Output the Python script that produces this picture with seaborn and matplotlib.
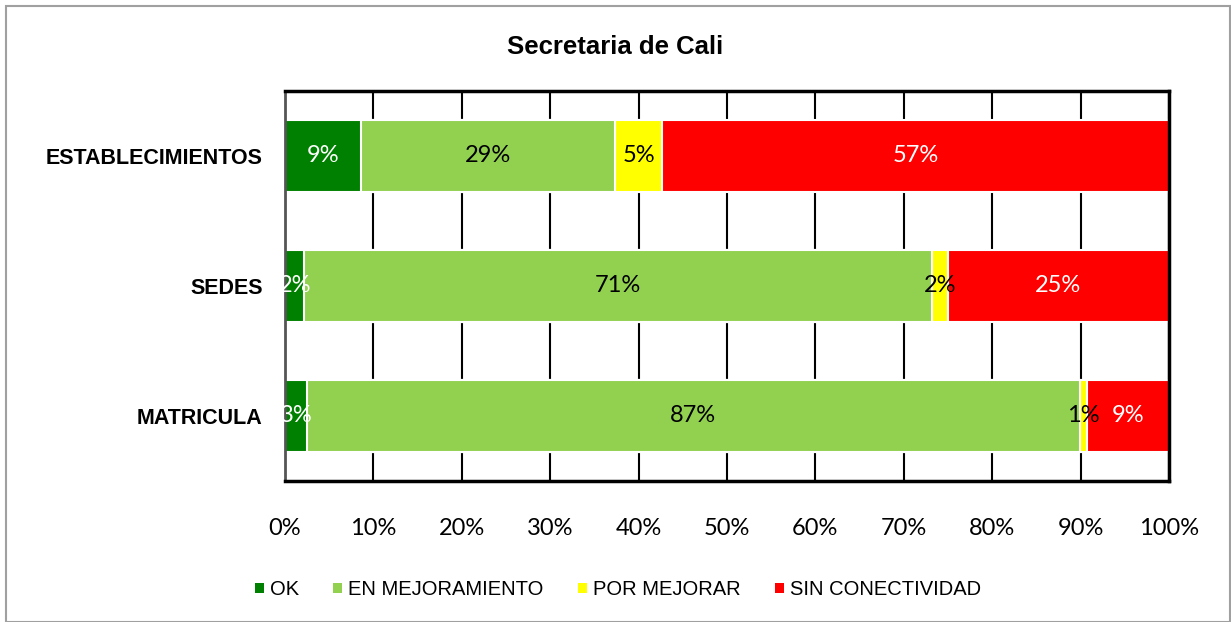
import matplotlib
matplotlib.use("Agg")
import matplotlib.pyplot as plt
from matplotlib.patches import Patch, Rectangle
import seaborn as sns
import pandas as pd
import numpy as np

# data (percent of each row)
categorias = ["ESTABLECIMIENTOS", "SEDES", "MATRICULA"]
ok = [8.6, 2.2, 2.5]
en_mejoramiento = [28.7, 71.0, 87.4]
por_mejorar = [5.4, 1.8, 0.8]
sin_conectividad = [57.3, 25.0, 9.3]
etiquetas = ["9%", "29%", "5%", "57%",
             "2%", "71%", "2%", "25%",
             "3%", "87%", "1%", "9%"]
series = ["OK", "EN MEJORAMIENTO", "POR MEJORAR", "SIN CONECTIVIDAD"]
colores = ["#008000", "#92D050", "#FFFF00", "#FF0000"]
color_texto = ["white", "black", "black", "white"]

df = pd.DataFrame({"cat": categorias, "OK": ok, "EN MEJORAMIENTO": en_mejoramiento,
                   "POR MEJORAR": por_mejorar, "SIN CONECTIVIDAD": sin_conectividad})
acum = df[series].cumsum(axis=1)

sns.set_style("white")
plt.rcParams["text.color"] = "black"
plt.rcParams["xtick.color"] = "black"
plt.rcParams["ytick.color"] = "black"
fig = plt.figure(figsize=(12.31, 6.22), dpi=100)
ax = fig.add_axes([0.2315, 0.2267, 0.7181, 0.627])

# stacked bars: draw cumulative totals from the last series backwards
for s, c in reversed(list(zip(series, colores))):
    sns.barplot(x=acum[s], y=df["cat"], color=c, orient="h", ax=ax, saturation=1,
                width=0.56, edgecolor="white", linewidth=1.5, zorder=2)

# labels in the middle of each segment
k = 0
for i in range(len(categorias)):
    izq = 0
    for j, s in enumerate(series):
        v = df[s][i]
        ax.text(izq + v / 2, i, etiquetas[k], ha="center", va="center",
                color=color_texto[j], fontsize=17, family="Lato", zorder=5)
        izq += v
        k += 1

ax.set_xlim(0, 100)
ax.set_ylim(2.5, -0.5)
ax.set_xticks(np.arange(0, 101, 10))
ax.set_xticklabels([f"{t}%" for t in range(0, 101, 10)], family="Lato", fontsize=17)
ax.tick_params(axis="x", length=0, pad=27)
ax.tick_params(axis="y", length=0, pad=16)
for lab in ax.get_yticklabels():
    lab.set_fontweight("bold")
    lab.set_fontsize(15.5)
    lab.set_family("Liberation Sans")
ax.set_xlabel("")
ax.set_ylabel("")
ax.grid(axis="x", color="black", linewidth=1.5, zorder=0)
ax.set_axisbelow(True)
for sp in ax.spines.values():
    sp.set_visible(True)
    sp.set_color("black")
    sp.set_linewidth(2.5)
ax.spines["left"].set_color("#555555")
ax.spines["left"].set_linewidth(2)

fig.text(0.5, 0.925, "Secretaria de Cali", ha="center", va="center",
         fontsize=18.5, fontweight="bold", family="Liberation Sans")

handles = [Patch(facecolor=c, edgecolor="none") for c in colores]
fig.legend(handles, series, loc="center", bbox_to_anchor=(0.502, 0.052), ncol=4,
           frameon=False, handlelength=0.45, handleheight=0.45, handletextpad=0.3,
           columnspacing=1.7, prop={"family": "Liberation Sans", "size": 14.5})

# outer chart border
fig.patches.append(Rectangle((0.005, 0.0), 0.994, 0.99, transform=fig.transFigure,
                             fill=False, edgecolor="#a0a0a0", linewidth=1.5))

fig.savefig("out.png", dpi=100)
